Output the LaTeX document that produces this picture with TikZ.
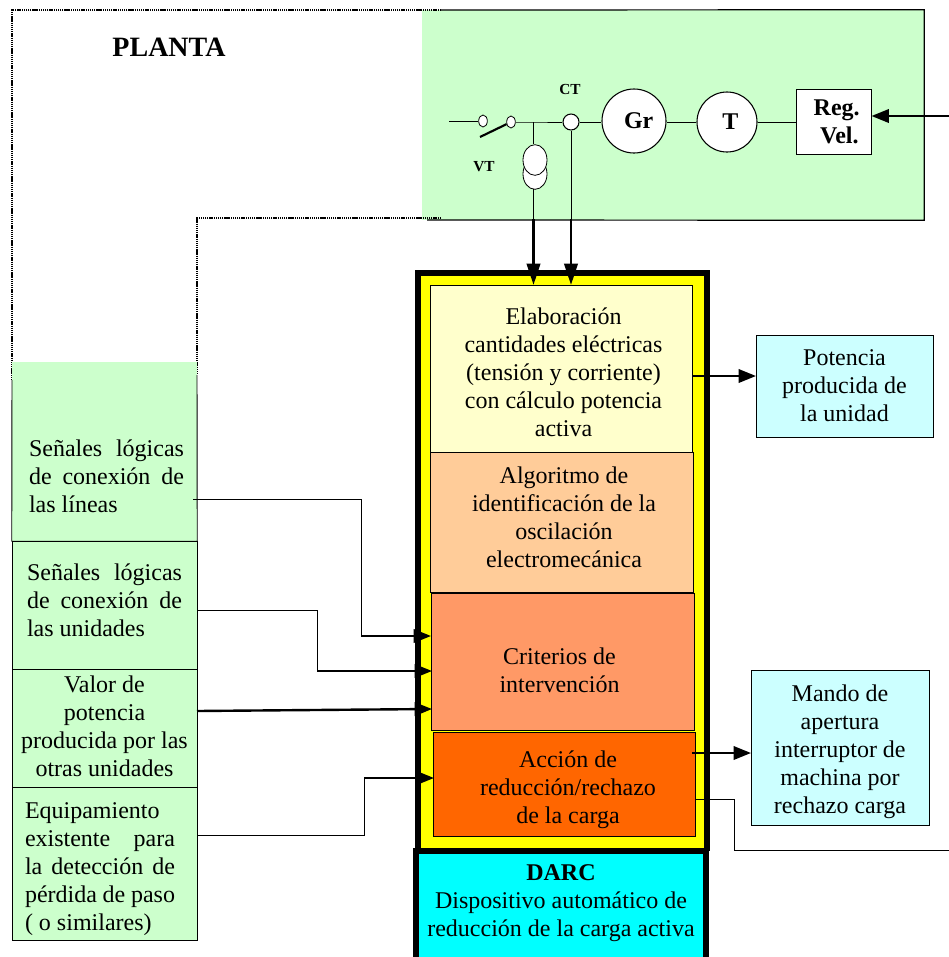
\documentclass[tikz,border=0pt]{standalone}
\usepackage{xcolor}
\usepackage{fontspec}
\setmainfont{Liberation Serif}
\usetikzlibrary{shapes,arrows,arrows.meta}
\definecolor{verde}{HTML}{CCFFCC}
\definecolor{celeste}{HTML}{CCFFFF}
\definecolor{crema}{HTML}{FFFFCC}
\definecolor{durazno}{HTML}{FFCC99}
\definecolor{salmon}{HTML}{FF9966}
\definecolor{naranja}{HTML}{FF6600}
\definecolor{amarillo}{HTML}{FFFF00}
\definecolor{turquesa}{HTML}{00FFFF}
\newcommand{\renglon}[2]{\makebox[\dimexpr #1pt*3/4\relax][s]{#2}}

\begin{document}
\begin{tikzpicture}[x=0.75pt,y=-0.75pt]
\tikzstyle{sized}=[minimum width=#1*0.75pt];
\tikzstyle{alto}=[minimum height=#1*0.75pt];
\tikzstyle{txt}=[font=\fontsize{18}{21}\selectfont,align=center,inner sep=0pt,outer sep=0pt];
\tikzstyle{caja}=[txt,draw,line width=0.7pt];
\tikzstyle{celda}=[caja,fill=verde];
\tikzstyle{maq}=[draw,line width=0.8pt,fill=white,circle,inner sep=0pt,font=\fontsize{18}{18}\selectfont\bfseries];
\tikzstyle{fina}=[line width=0.6pt];
\tikzstyle{flecha}=[line width=1.8pt,-{Stealth[inset=0pt,length=13pt,width=10pt]}];
\tikzstyle{bajada}=[line width=2.2pt,-{Stealth[inset=0pt,length=16pt,width=10pt]}];
\tikzstyle{punteada}=[line width=1.8pt,dash pattern=on 1pt off 0.6pt];
\tikzstyle{marco}=[line width=4.5pt];
\useasboundingbox (0,0) rectangle (949,957);

% planta
\node[fill=verde,inner sep=0pt,sized=502,alto=210] (planta) at (673,115) {};
\draw[line width=0.9pt] (441,10) -- (planta.north east) -- (planta.south east) -- (427,220);
\coordinate (dA) at (441,10);
\coordinate (dB) at (12,10);
\coordinate (dC) at (12,380);
\coordinate (dD) at (441,218);
\coordinate (dE) at (197,218);
\coordinate (dF) at (197,375);
\draw[punteada] (dA) -- (dB) -- (dC);
\draw[punteada] (dD) -- (dE) -- (dF);
\node[font=\fontsize{21}{21}\selectfont\bfseries,inner sep=0pt] (tplanta) at (169,47) {PLANTA};

% maquinas
\node[maq,minimum size=64*0.75pt] (gr) at (634,121) {\hspace{7pt}Gr};
\node[maq,minimum size=60*0.75pt] (turb) at (727,122) {\hspace{5pt}T};
\node[caja,fill=white,sized=75,alto=65,font=\fontsize{18}{21}\selectfont\bfseries] (reg) at (834,122) {\hspace{4pt}Reg.\\\hspace{8pt}Vel.};
\node[maq,minimum size=16*0.75pt] (ct) at (571,122) {};
\node[font=\fontsize{11.5}{12}\selectfont\bfseries,inner sep=0pt] (tct) at (570,89) {CT};
\node[font=\fontsize{11.5}{12}\selectfont\bfseries,inner sep=0pt] (tvt) at (484,167) {VT};
\node[draw,ellipse,fill=white,line width=0.6pt,minimum width=6.5pt,minimum height=9pt,inner sep=0pt] (c1) at (483,121) {};
\node[draw,ellipse,fill=white,line width=0.6pt,minimum width=6.5pt,minimum height=9pt,inner sep=0pt] (c2) at (511,122) {};
\coordinate (linea) at (449,121);
\coordinate (hoja) at (480,137);
\coordinate (nudo) at (533.5,122);
\draw[fina] (linea) -- (c1);
\draw[line width=1.6pt] (hoja) -- (c2);
\draw[fina] (c2) -- (nudo) -- (ct);
\draw[fina] (ct) -- (ct -| gr.west);
\draw[fina] (gr.east |- turb) -- (turb);
\draw[fina] (turb) -- (reg.west |- turb);
\node[draw,ellipse,fill=white,line width=0.6pt,minimum width=18pt,minimum height=23pt,inner sep=0pt] (vtb) at (535,174) {};
\node[draw,ellipse,fill=white,line width=0.6pt,minimum width=18pt,minimum height=23pt,inner sep=0pt] (vta) at (535,160) {};
\draw[fina] (nudo) -- (nudo |- vta.north);
\coordinate (entrada) at (949,116);
\draw[flecha] (entrada) -- (reg.east |- entrada);

% bloque DARC
\node[fill=amarillo,inner sep=0pt,sized=289,alto=578] (marco) at (562.5,562) {};
\draw[marco] (marco.south west) -- (marco.north west) -- (marco.north east) -- (marco.south east);
\node[caja,fill=crema,sized=262,alto=167] (elab) at (561,368.5) {};
\node[txt] (telab) at (563.5,372.5) {Elaboración\\cantidades eléctricas\\(tensión y corriente)\\con cálculo potencia\\activa};
\node[caja,fill=durazno,sized=263,alto=140] (algo) at (561.5,522) {};
\node[txt] (talgo) at (564,517) {Algoritmo de\\identificación de la\\oscilación\\electromecánica};
\node[caja,fill=salmon,sized=263,alto=137] (crit) at (562.5,661.5) {};
\node[txt] (tcrit) at (559.5,670.5) {Criterios de\\intervención};
\node[caja,fill=naranja,sized=262,alto=104] (accion) at (564,784) {};
\node[txt] (taccion) at (568,790) {Acción de\\reducción/rechazo\\de la carga};
\node[fill=turquesa,inner sep=0pt,sized=290,alto=106] (darc) at (561,904) {};
\draw[marco] (darc.south west) -- (darc.north west) -- (darc.north east) -- (darc.south east);
\node[txt] (tdarc) at (561,903) {\textbf{DARC}\\Dispositivo automático de\\reducción de la carga activa};

% salidas
\node[caja,fill=celeste,sized=177,alto=102] (potencia) at (844.5,386) {Potencia\\producida de\\la unidad};
\node[caja,fill=celeste,sized=178,alto=155] (mando) at (840,747.5) {};
\node[txt] (tmando) at (840,751.5) {Mando de\\apertura\\interruptor de\\machina por\\rechazo carga};
\coordinate (sE) at (692,376);
\coordinate (sA) at (692,753);
\draw[flecha] (sE) -- (potencia.west |- sE);
\draw[flecha] (sA) -- (mando.west |- sA);
\coordinate (rA) at (695,799);
\coordinate (rB) at (734,799);
\coordinate (rC) at (734,850);
\coordinate (rD) at (949,850);
\draw[fina] (rA) -- (rB) -- (rC) -- (rD);

% medidas
\coordinate (mV) at (533.5,189);
\coordinate (mVa) at (533.5,219);
\coordinate (mCa) at (571,219);
\coordinate (mVb) at (533.5,285);
\coordinate (mCb) at (571,285);
\draw[fina] (mV) -- (mVa);
\draw[fina] (ct) -- (mCa);
\draw[bajada] (mVa) -- (mVb);
\draw[bajada] (mCa) -- (mCb);

% entradas
\node[fill=verde,inner sep=0pt,sized=185,alto=179] (sl) at (104.5,451.5) {};
\node[txt,align=left] (tsl) at (106.5,476) {\renglon{155}{Señales lógicas}\\\renglon{155}{de conexión de}\\las líneas};
\draw[line width=0.7pt] (dC) -- (sl.south west) -- (sl.south east) -- (dF);
\node[celda,sized=185,alto=128] (su) at (104.5,605) {};
\node[txt,align=left] (tsu) at (104.5,600) {\renglon{155}{Señales lógicas}\\\renglon{155}{de conexión de}\\las unidades};
\node[celda,sized=185,alto=118] (vp) at (104.5,728) {};
\node[txt] (tvp) at (104.5,726) {Valor de\\potencia\\producida por las\\otras unidades};
\node[celda,sized=185,alto=153] (eq) at (104.5,863.5) {};
\node[txt,align=left] (teq) at (100,869) {Equipamiento\\\renglon{150}{existente para}\\\renglon{150}{la detección de}\\\renglon{150}{pérdida de paso}\\( o similares)};

\coordinate (eA) at (193,499);
\coordinate (eB) at (361,499);
\coordinate (eC) at (361,636);
\coordinate (eD) at (431,636);
\draw[fina] (eA) -- (eB) -- (eC);
\draw[flecha] (eC) -- (eD);
\coordinate (fA) at (197,610);
\coordinate (fB) at (317,610);
\coordinate (fC) at (317,671);
\coordinate (fD) at (432,671);
\draw[fina] (fA) -- (fB) -- (fC);
\draw[flecha] (fC) -- (fD);
\coordinate (gA) at (197,711);
\coordinate (gD) at (432,709);
\draw[flecha] (gA) -- (gD);
\coordinate (hA) at (197,835);
\coordinate (hB) at (364,835);
\coordinate (hC) at (364,778);
\coordinate (hD) at (434,778);
\draw[fina] (hA) -- (hB) -- (hC);
\draw[flecha] (hC) -- (hD);
\end{tikzpicture}
\end{document}
